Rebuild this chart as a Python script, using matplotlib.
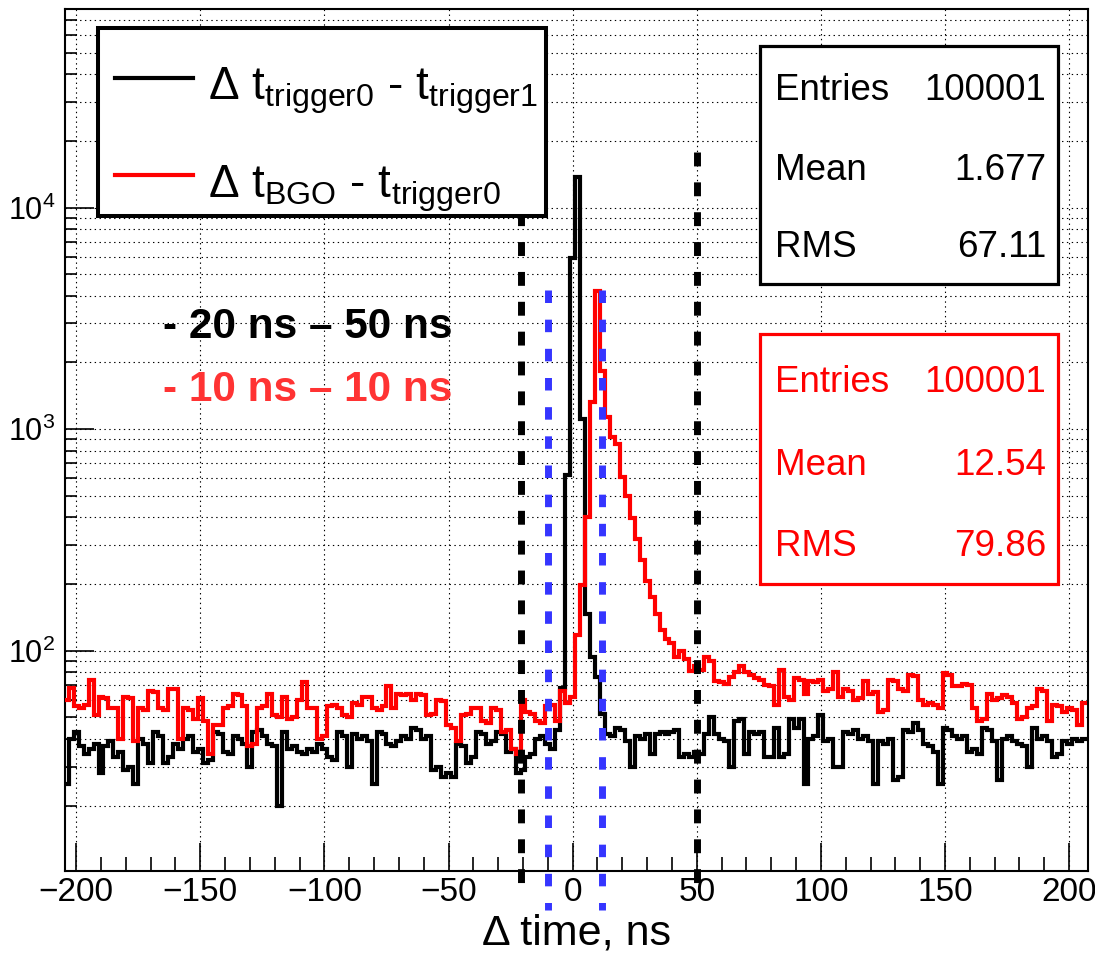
import numpy as np
import matplotlib
matplotlib.use('Agg')
import matplotlib.pyplot as plt
from matplotlib.ticker import MultipleLocator, LogLocator, NullFormatter
from matplotlib.patches import Rectangle
from matplotlib.lines import Line2D

plt.rcParams['font.family'] = ['Liberation Sans', 'DejaVu Sans']
plt.rcParams['mathtext.fontset'] = 'custom'
plt.rcParams['mathtext.rm'] = 'Liberation Sans'
plt.rcParams['mathtext.it'] = 'Liberation Sans:italic'
plt.rcParams['mathtext.bf'] = 'Liberation Sans:bold'
plt.rcParams['lines.scale_dashes'] = False

# ---------------- data ----------------
bin_start = -205.0
bin_width = 2.0

black_counts = [
    25, 40, 43, 37, 34, 36, 38, 28, 37, 39,
    33, 35, 29, 30, 25, 40, 38, 31, 43, 41,
    31, 33, 38, 36, 40, 41, 35, 36, 31, 32,
    43, 42, 35, 34, 41, 40, 38, 30, 43, 44,
    41, 38, 37, 20, 43, 36, 37, 35, 34, 36,
    35, 38, 36, 33, 32, 43, 41, 30, 42, 40,
    41, 39, 25, 43, 42, 38, 37, 39, 41, 40,
    45, 44, 40, 41, 29, 30, 27, 28, 27, 38,
    37, 31, 33, 43, 42, 38, 39, 43, 42, 35,
    36, 28, 29, 33, 34, 40, 41, 38, 36, 44,
    68, 620, 5900, 13800, 1110, 146, 94, 76, 52, 42,
    41, 45, 44, 39, 30, 41, 40, 42, 34, 42,
    43, 42, 43, 44, 33, 34, 33, 35, 34, 42,
    50, 42, 40, 39, 30, 48, 49, 34, 43, 42,
    43, 33, 33, 45, 33, 34, 49, 45, 49, 25,
    40, 41, 51, 39, 40, 30, 30, 43, 42, 44,
    40, 41, 39, 25, 39, 38, 40, 26, 27, 44,
    43, 47, 44, 38, 37, 35, 25, 45, 44, 41,
    40, 41, 35, 36, 34, 45, 44, 39, 26, 40,
    41, 39, 38, 37, 30, 45, 40, 41, 39, 33,
    34, 39, 38, 40, 39, 40,
]

red_counts = [
    60, 68, 56, 55, 57, 74, 51, 62, 61, 55,
    55, 40, 62, 61, 39, 55, 54, 66, 65, 55,
    54, 67, 67, 40, 55, 54, 49, 61, 48, 34,
    46, 46, 55, 56, 64, 63, 56, 37, 38, 55,
    56, 64, 51, 50, 62, 49, 50, 60, 72, 55,
    55, 40, 41, 56, 57, 55, 51, 50, 58, 57,
    62, 62, 55, 54, 56, 69, 55, 64, 63, 64,
    60, 64, 63, 51, 52, 60, 59, 46, 45, 39,
    51, 52, 55, 55, 48, 47, 55, 54, 43, 44,
    36, 34, 60, 53, 52, 48, 47, 56, 57, 48,
    66, 58, 62, 118, 198, 400, 1320, 4220, 1830, 1135,
    918, 860, 607, 500, 396, 318, 256, 207, 175, 147,
    124, 113, 108, 94, 100, 92, 81, 85, 82, 94,
    90, 73, 72, 71, 76, 80, 85, 80, 78, 75,
    74, 70, 69, 57, 82, 62, 60, 75, 74, 64,
    73, 72, 74, 66, 67, 80, 62, 67, 66, 60,
    61, 73, 64, 65, 53, 54, 74, 73, 67, 66,
    78, 77, 60, 57, 58, 57, 55, 79, 78, 69,
    69, 71, 70, 55, 48, 49, 64, 60, 61, 63,
    62, 58, 49, 50, 55, 56, 67, 66, 48, 57,
    56, 53, 55, 54, 46, 58,
]

black_cut_lines = [-21, 50]
blue_cut_lines = [-10, 12]

legend_labels = ['$\\mathregular{\u0394\\ t_{trigger0}\\ \u2010\\ t_{trigger1}}$',
                 '$\\mathregular{\u0394\\ t_{BGO}\\ \u2010\\ t_{trigger0}}$']
stat_names = ['Entries', 'Mean', 'RMS']
black_stats = ['100001', '1.677', '67.11']
red_stats = ['100001', '12.54', '79.86']
window_texts = ['- 20 ns \u2013 50 ns', '- 10 ns \u2013 10 ns']

# ---------------- figure ----------------
W, H = 1095, 956
fig = plt.figure(figsize=(W / 100, H / 100), dpi=100)

def fx(px):
    return px / W

def fy(py):
    return 1 - py / H

ax_l, ax_r, ax_t, ax_b = 65, 1088, 9, 871
ax = fig.add_axes([fx(ax_l), fy(ax_b), (ax_r - ax_l) / W, (ax_b - ax_t) / H])

edges = bin_start + bin_width * np.arange(len(black_counts) + 1)
ax.stairs(black_counts, edges, color='black', lw=3.0, baseline=None, zorder=3)
ax.stairs(red_counts, edges, color='#ff0000', lw=3.0, baseline=None, zorder=3)

ax.set_yscale('log')
ax.set_xlim(-204.5, 207.6)
ax.set_ylim(10.13, 7.87e4)

ax.xaxis.set_major_locator(MultipleLocator(50))
ax.xaxis.set_minor_locator(MultipleLocator(10))
ax.yaxis.set_major_locator(LogLocator(base=10, numticks=10))
ax.yaxis.set_minor_locator(LogLocator(base=10, subs=np.arange(2, 10), numticks=20))
ax.yaxis.set_minor_formatter(NullFormatter())

ax.tick_params(axis='both', which='both', direction='in', top=False, right=False, width=1.2, color='black')
ax.tick_params(axis='x', which='major', length=20, labelsize=24, pad=4)
ax.tick_params(axis='x', which='minor', length=10)
ax.tick_params(axis='y', which='major', length=21, labelsize=22, pad=7)
ax.tick_params(axis='y', which='minor', length=8.5)

grid_style = dict(color='black', linestyle=(0, (1, 2.5)), linewidth=0.8)
ax.grid(True, which='major', axis='x', **grid_style)
ax.grid(True, which='both', axis='y', **grid_style)
ax.set_axisbelow(True)
for sp in ax.spines.values():
    sp.set_linewidth(1.5)

# x label
fig.text(fx(577), fy(934), '\u0394 time, ns', ha='center', va='center', fontsize=31)

# legend box
fig.add_artist(Rectangle((fx(98), fy(216)), (546 - 98) / W, (216 - 28) / H,
                         transform=fig.transFigure, facecolor='white', edgecolor='black',
                         lw=2.9, zorder=6))
for (ly, ty, col, lab) in [(78, 99, 'black', legend_labels[0]), (175, 197, '#ff0000', legend_labels[1])]:
    fig.add_artist(Line2D([fx(115), fx(193)], [fy(ly), fy(ly)], transform=fig.transFigure,
                          color=col, lw=3, zorder=7))
    fig.text(fx(208), fy(ty), lab, ha='left', va='baseline', fontsize=33, zorder=7)

# stats boxes
def stats_box(top, bottom, color, values, baselines):
    fig.add_artist(Rectangle((fx(760), fy(bottom)), (1058 - 760) / W, (bottom - top) / H,
                             transform=fig.transFigure, facecolor='white', edgecolor=color,
                             lw=2.3, zorder=6))
    for name, val, b in zip(stat_names, values, baselines):
        fig.text(fx(775), fy(b), name, ha='left', va='baseline', fontsize=26.5, color=color, zorder=7)
        fig.text(fx(1046), fy(b), val, ha='right', va='baseline', fontsize=26.5, color=color, zorder=7)

stats_box(46, 284, 'black', black_stats, [100, 180, 257])
stats_box(334, 584, '#ff0000', red_stats, [392, 475, 556])

# window annotations
fig.text(fx(163), fy(327), window_texts[0], ha='left', va='center', fontsize=30.5,
         fontweight='bold', color='black')
fig.text(fx(163), fy(390), window_texts[1], ha='left', va='center', fontsize=30.5,
         fontweight='bold', color='#ff3333')

# dashed cut lines
xt = ax.get_xaxis_transform()
def ay(py):
    return (ax_b - py) / (ax_b - ax_t)

for xc in black_cut_lines:
    ax.plot([xc, xc], [ay(152), ay(895)], transform=xt, color='black', lw=5,
            dashes=(10, 11.5), solid_capstyle='butt', dash_capstyle='butt',
            clip_on=False, zorder=10)
for xc in blue_cut_lines:
    ax.plot([xc, xc], [ay(290), ay(910)], transform=xt, color='#3535ff', lw=5,
            dashes=(9, 12), solid_capstyle='butt', dash_capstyle='butt',
            clip_on=False, zorder=10)

fig.savefig('out.png', dpi=100, facecolor='white')
